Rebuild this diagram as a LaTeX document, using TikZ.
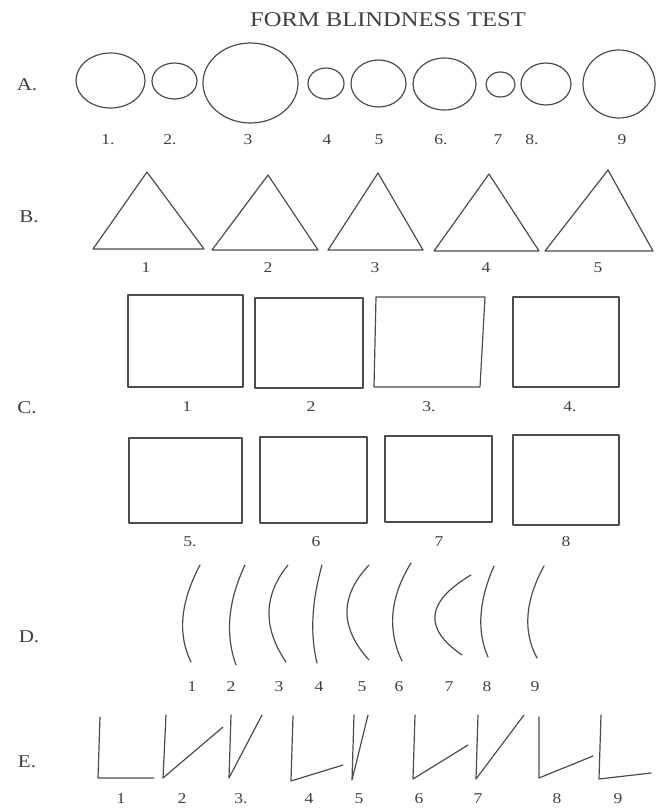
\documentclass[tikz,border=0pt]{standalone}
\usepackage{fontspec}
\setmainfont{Liberation Serif}
\usetikzlibrary{calc}

\begin{document}
\begin{tikzpicture}[x=1pt, y=-1pt,
    forma/.style={draw=black!70, line width=1.2pt, line cap=round, line join=round},
    num/.style={font=\fontsize{15}{15}\selectfont, text=black!75, xscale=1.17},
    letra/.style={font=\fontsize{18}{18}\selectfont, text=black!75, xscale=1.17}]
    \useasboundingbox (0,0) rectangle (656,809);
    \node[font=\fontsize{21}{21}\selectfont, text=black!75, xscale=1.17] (titulo) at (388,20) {FORM BLINDNESS TEST};

    % Fila A: circulos (la hoja esta estirada en horizontal)
    \node[letra] (A) at (27,85) {A.};
    \foreach \cx/\cy/\rx/\ry in {110.5/80.5/34.5/27.5, 174.5/81/22.5/18, 250.5/83/47.5/40,
        326/83.5/18/15.5, 378.5/83.5/27.5/23.5, 444.5/84/31.5/26, 500.5/84.5/14.5/12.5,
        546/84/25/21, 619/84/36/34}
        \draw[forma] (\cx,\cy) ellipse [x radius=\rx, y radius=\ry];
    \foreach \x/\t [count=\i] in {108/1., 170/2., 248/3, 327/4, 379/5, 441/6., 498/7, 532/8., 622/9}
        \node[num] (a\i) at (\x,140) {\t};

    % Fila B: triangulos
    \node[letra] (B) at (29,217) {B.};
    \foreach \ax/\ay/\l/\r/\b in {147/172/93/204/249, 268/175/212/318/250, 378/173/328/423/250,
        489/174/434/539/251, 608/170/545/653/251}
        \draw[forma] (\ax,\ay) -- (\r,\b) -- (\l,\b) -- cycle;
    \foreach \x/\t [count=\i] in {146/1, 268/2, 375/3, 486/4, 598/5}
        \node[num] (b\i) at (\x,268) {\t};

    % Fila C: cuadrados
    \node[letra] (C) at (27,408) {C.};
    \draw[forma] (128,295) rectangle (243,387);
    \draw[forma] (255,298) rectangle (363,388);
    \draw[forma] (376,297) -- (485,297) -- (480,387) -- (374,387) -- cycle;
    \draw[forma] (513,297) rectangle (619,387);
    \draw[forma] (129,438) rectangle (242,523);
    \draw[forma] (260,437) rectangle (367,523);
    \draw[forma] (385,436) rectangle (492,522);
    \draw[forma] (513,435) rectangle (619,525);
    \foreach \x/\t [count=\i] in {187/1, 311/2, 429/3., 570/4.}
        \node[num] (c\i) at (\x,407) {\t};
    \foreach \x/\t [count=\i from 5] in {190/5., 316/6, 439/7, 566/8}
        \node[num] (c\i) at (\x,542) {\t};

    % Fila D: arcos (punto alto, punto de control, punto bajo)
    \node[letra] (D) at (29,637) {D.};
    \foreach \px/\py/\kx/\ky/\qx/\qy in {200/565/170.5/620.5/191/662, 245/565/219.5/619/236/665,
        288/565/251/610.5/286/662, 322/565/306.5/620/317/663, 369/565/325/611.5/369/660,
        411/563/379.5/614/402/661, 471/575/403.5/615/462/655, 494/566/471/618.5/488/657,
        544/566/515.5/618/537/658}
        \draw[forma] (\px,\py) .. controls ($(\px,\py)!0.667!(\kx,\ky)$)
            and ($(\qx,\qy)!0.667!(\kx,\ky)$) .. (\qx,\qy);
    \foreach \x/\t [count=\i] in {192/1, 231/2, 279/3, 319/4, 362/5, 399/6, 449/7, 487/8, 535/9}
        \node[num] (d\i) at (\x,687) {\t};

    % Fila E: angulos
    \node[letra] (E) at (27,762) {E.};
    \foreach \ux/\uy/\vx/\vy/\wx/\wy in {100/717/98/778/154/778, 166/715/163/778/223/727,
        231/715/229/778/262/715, 293/716/291/781/343/765, 354/715/352/780/368/715,
        415/715/413/779/468/745, 478/715/476/779/524/715, 539/717/539/778/593/756,
        601/715/599/779/651/773}
        \draw[forma] (\ux,\uy) -- (\vx,\vy) -- (\wx,\wy);
    \foreach \x/\t [count=\i] in {121/1, 182/2, 241/3., 309/4, 359/5, 419/6, 478/7, 557/8, 618/9}
        \node[num] (e\i) at (\x,799) {\t};
\end{tikzpicture}
\end{document}
